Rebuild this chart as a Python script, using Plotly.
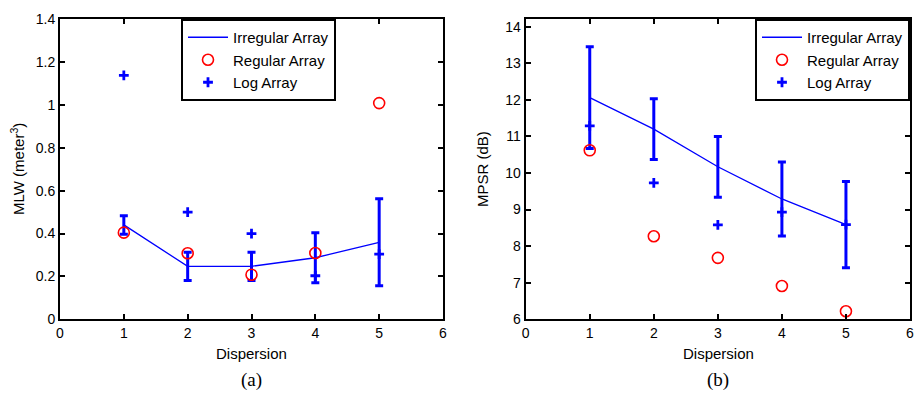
import plotly.graph_objects as go

dispersion = [1, 2, 3, 4, 5]

# Panel (a): MLW
mlw_irregular = [0.44, 0.247, 0.247, 0.287, 0.359]
mlw_irregular_err = [0.043, 0.066, 0.066, 0.117, 0.203]
mlw_regular = [0.404, 0.308, 0.208, 0.309, 1.008]
mlw_log = [1.137, 0.50, 0.399, 0.203, 0.304]

# Panel (b): MPSR
mpsr_irregular = [12.06, 11.20, 10.17, 9.29, 8.59]
mpsr_irregular_err = [1.39, 0.83, 0.83, 1.01, 1.18]
mpsr_regular = [10.62, 8.27, 7.68, 6.91, 6.22]
mpsr_log = [11.29, 9.73, 8.58, 8.93, 8.59]

x_ticks = [0, 1, 2, 3, 4, 5, 6]
mlw_ticks = [0, 0.2, 0.4, 0.6, 0.8, 1.0, 1.2, 1.4]
mlw_ticktext = ["0", "0.2", "0.4", "0.6", "0.8", "1", "1.2", "1.4"]
mpsr_ticks = [6, 7, 8, 9, 10, 11, 12, 13, 14]

BLUE = "#0000FF"
RED = "#FF0000"
FONT = "Liberation Sans"

fig = go.Figure()

def add_panel(xa, ya, legend, irr, err, reg, log):
    fig.add_trace(go.Scatter(
        x=dispersion, y=irr, mode="lines", name="Irregular Array",
        line=dict(color=BLUE, width=1.3),
        error_y=dict(type="data", array=err, visible=True, color=BLUE,
                     thickness=3, width=4),
        xaxis=xa, yaxis=ya, legend=legend))
    fig.add_trace(go.Scatter(
        x=dispersion, y=reg, mode="markers", name="Regular Array",
        marker=dict(symbol="circle-open", size=11, color=RED,
                    line=dict(width=1.6, color=RED)),
        xaxis=xa, yaxis=ya, legend=legend))
    fig.add_trace(go.Scatter(
        x=dispersion, y=log, mode="markers", name="Log Array",
        marker=dict(symbol="cross-thin", size=7, color=BLUE,
                    line=dict(width=2.8, color=BLUE)),
        xaxis=xa, yaxis=ya, legend=legend))

add_panel("x", "y", "legend", mlw_irregular, mlw_irregular_err, mlw_regular, mlw_log)
add_panel("x2", "y2", "legend2", mpsr_irregular, mpsr_irregular_err, mpsr_regular, mpsr_log)

W, H = 917, 395
R = 7
PW = W - R
def px(v):
    return v / PW
def py(v):
    return 1 - v / H

axis_common = dict(showline=True, linecolor="black", linewidth=2, mirror="ticks",
                   ticks="inside", ticklen=5, tickwidth=1.5, tickcolor="black",
                   showgrid=False, zeroline=False, automargin=False,
                   tickfont=dict(family=FONT, size=14, color="black"))

fig.update_layout(
    width=W, height=H,
    margin=dict(l=0, r=R, t=0, b=0, autoexpand=False),
    paper_bgcolor="white", plot_bgcolor="white",
    font=dict(family=FONT, size=14, color="black"),
    xaxis=dict(domain=[px(60), px(443)], range=[0, 6], tickvals=x_ticks,
               anchor="y", **axis_common),
    yaxis=dict(domain=[py(319.3), py(19)], range=[0, 1.4], tickvals=mlw_ticks,
               ticktext=mlw_ticktext, anchor="x", **axis_common),
    xaxis2=dict(domain=[px(525.7), px(910)], range=[0, 6], tickvals=x_ticks,
                anchor="y2", **axis_common),
    yaxis2=dict(domain=[py(319.3), py(19)], range=[6, 14.21], tickvals=mpsr_ticks,
                anchor="x2", **axis_common),
    legend=dict(x=px(181), y=py(19), xanchor="left", yanchor="top",
                bgcolor="white", bordercolor="black", borderwidth=2,
                font=dict(family=FONT, size=15, color="black"),
                tracegroupgap=0, itemwidth=40),
    legend2=dict(x=px(910), y=py(19), xanchor="right", yanchor="top",
                 bgcolor="white", bordercolor="black", borderwidth=2,
                 font=dict(family=FONT, size=15, color="black"),
                 tracegroupgap=0, itemwidth=40),
    showlegend=True,
)

annots = [
    dict(text="Dispersion", x=px(251.5), y=py(353), font=dict(size=15)),
    dict(text="Dispersion", x=px(718), y=py(353), font=dict(size=15)),
    dict(text="(a)", x=px(251.5), y=py(380), font=dict(family="Liberation Serif", size=19)),
    dict(text="(b)", x=px(718), y=py(380), font=dict(family="Liberation Serif", size=19)),
    dict(text="MLW (meter<sup>3</sup>)", x=px(17), y=py(169), textangle=-90, font=dict(size=15)),
    dict(text="MPSR (dB)", x=px(482), y=py(169), textangle=-90, font=dict(size=15)),
]
for a in annots:
    fig.add_annotation(xref="paper", yref="paper", showarrow=False,
                       xanchor="center", yanchor="middle", **a)

fig.write_html("out.html", config={"displayModeBar": False},
               post_script="document.body.style.margin='0';document.body.style.overflow='hidden';")
